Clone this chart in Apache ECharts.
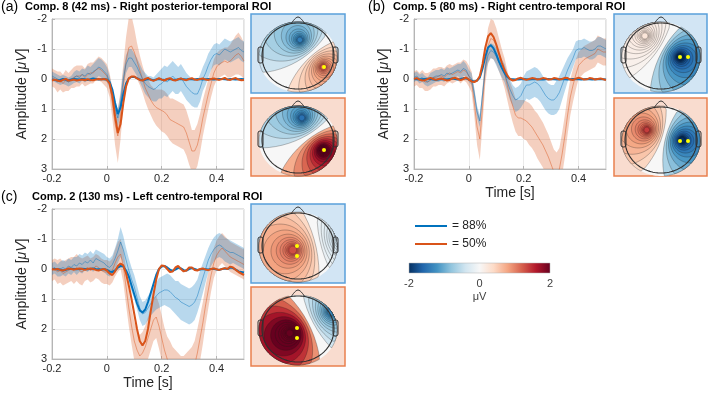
<!DOCTYPE html>
<html>
<head>
<meta charset="utf-8">
<script src="https://cdn.jsdelivr.net/npm/echarts@6/dist/echarts.min.js"></script>
<style>
  html, body { margin: 0; padding: 0; background: #fff; }
  #chart { width: 709px; height: 394px; }
</style>
</head>
<body>
<div id="chart"></div>
<script>
  // time axis [s]
  var time = [-0.2,-0.19,-0.18,-0.17,-0.16,-0.15,-0.14,-0.13,-0.12,-0.11,-0.1,-0.09,-0.08,-0.07,-0.06,-0.05,-0.04,-0.03,-0.02,-0.01,
    0,0.01,0.02,0.03,0.04,0.05,0.06,0.07,0.08,0.09,0.1,0.11,0.12,0.13,0.14,0.15,0.16,0.17,0.18,0.19,0.2,0.21,0.22,0.23,0.24,0.25,
    0.26,0.27,0.28,0.29,0.3,0.31,0.32,0.33,0.34,0.35,0.36,0.37,0.38,0.39,0.4,0.41,0.42,0.43,0.44,0.45,0.46,0.47,0.48,0.49,0.5];

  // (a) Comp. 8
  var modelBlueA = [0.02,0.03,0.05,0.03,0.0,0.02,0.04,0.02,0.0,0.01,0.02,0.0,0.01,0.03,0.01,-0.02,0.0,0.02,0.01,0.0,
    0.02,0.1,0.35,0.8,1.17,0.95,0.5,0.15,-0.02,-0.07,-0.07,-0.03,0.02,
    0.04,0.03,0.0,0.02,0.04,0.02,0.0,0.02,0.03,0.01,0.0,0.02,0.03,0.01,0.0,0.01,0.02,0.0,0.01,0.02,0.0,0.01,0.02,0.01,0.0,0.01,0.02,0.01,0.0,0.0,0.01,0.02,0.0,0.01,0.02,0.01,0.0,0.01];
  var modelOrangeA = [0.05,0.02,0.05,0.08,0.03,0.0,0.05,0.04,0.02,0.05,0.03,0.02,0.04,0.01,0.03,0.04,0.02,0.0,0.02,0.0,
    0.03,0.15,0.55,1.25,1.8,1.5,0.8,0.25,-0.02,-0.08,-0.08,-0.02,0.03,
    0.05,0.0,-0.04,0.03,0.06,0.02,-0.03,0.02,0.05,0.0,-0.03,0.03,0.05,0.01,-0.02,0.02,0.04,0.0,-0.03,0.02,0.03,0.0,-0.02,0.02,0.03,0.0,-0.02,0.01,0.03,0.0,-0.04,0.02,0.03,-0.01,-0.03,0.02,0.04,0.03];
  var meanBlueA = [-0.1,-0.05,0.0,0.05,0.02,0.05,0.1,0.05,-0.05,-0.1,
    -0.05,-0.15,-0.1,-0.2,-0.15,-0.25,-0.3,-0.4,-0.35,-0.25,
    -0.15,0.1,0.5,1.0,1.3,0.8,0.0,-0.5,-0.7,-0.7,
    -0.55,-0.4,-0.2,0.0,0.15,0.25,0.3,0.35,0.3,0.2,
    0.15,0.05,0.1,0.0,-0.1,0.0,0.05,-0.05,0.1,0.25,
    0.35,0.45,0.5,0.5,0.3,0.0,-0.2,-0.45,-0.65,-0.8,
    -0.85,-0.8,-0.9,-1.0,-0.95,-0.9,-0.95,-1.0,-1.05,-0.95,-0.9];
  var spreadBlueA = [0.15,0.15,0.15,0.15,0.15,0.15,0.15,0.15,0.18,0.2,0.2,0.2,0.22,0.25,0.25,0.25,0.3,0.3,0.3,0.3,
    0.25,0.2,0.2,0.25,0.3,0.3,0.3,0.3,0.3,0.3,0.3,0.3,0.3,
    0.3,0.35,0.35,0.4,0.4,0.45,0.45,0.5,0.5,0.5,0.5,0.5,0.5,0.45,0.45,0.45,0.45,0.45,0.45,0.45,0.45,0.45,0.4,0.4,0.4,0.35,0.35,0.35,0.35,0.35,0.35,0.35,0.35,0.35,0.35,0.35,0.35,0.35];
  var meanOrangeA = [-0.05,0.0,0.1,0.05,0.15,0.05,0.1,0.0,-0.05,-0.1,
    -0.1,-0.15,-0.05,-0.15,-0.2,-0.2,-0.3,-0.35,-0.3,-0.2,
    -0.1,0.2,0.8,1.5,1.9,1.2,0.2,-0.6,-1.05,-1.1,
    -0.9,-0.6,-0.3,0.0,0.3,0.5,0.7,0.85,0.95,1.0,
    1.05,1.1,1.2,1.35,1.4,1.45,1.5,1.55,1.6,1.8,
    2.1,2.4,2.4,2.2,1.8,1.3,0.9,0.5,0.15,-0.2,
    -0.4,-0.5,-0.55,-0.6,-0.55,-0.6,-0.7,-0.8,-0.85,-0.75,-0.6];
  var spreadOrangeA = [0.3,0.3,0.35,0.3,0.3,0.35,0.3,0.3,0.35,0.35,0.35,0.3,0.3,0.35,0.35,0.35,0.35,0.4,0.4,0.4,
    0.4,0.4,0.5,0.7,0.9,0.8,0.7,0.8,1.0,1.0,0.8,0.6,0.5,
    0.45,0.45,0.5,0.5,0.55,0.6,0.65,0.7,0.7,0.7,0.7,0.75,0.75,0.75,0.75,0.75,0.75,0.75,0.7,0.7,0.7,0.65,0.6,0.55,0.5,0.45,0.45,0.45,0.45,0.45,0.45,0.5,0.55,0.6,0.65,0.7,0.65,0.6];

  // (b) Comp. 5
  var modelBlueB = [0.0,0.01,0.02,0.01,0.0,-0.01,0.0,0.02,0.03,0.02,0.0,0.01,0.02,0.0,-0.02,0.0,0.02,0.0,-0.03,-0.02,
    0.02,0.06,0.08,0.05,-0.05,-0.35,-0.75,-1.05,-1.13,-1.02,-0.82,-0.58,-0.38,-0.2,-0.07,0.0,
    0.01,0.02,0.02,0.01,0.0,0.01,0.02,0.01,0.0,0.01,0.02,0.02,0.01,0.0,0.01,0.01,0.02,0.01,0.0,0.01,0.02,0.01,0.0,0.01,0.01,0.02,0.01,0.0,0.01,0.02,0.01,0.0,0.01,0.01,0.02];
  var modelOrangeB = [0.0,-0.03,0.02,0.05,0.04,0.0,-0.04,0.0,0.03,0.0,-0.02,0.02,0.05,0.03,-0.02,-0.04,0.0,0.04,0.0,-0.05,
    0.02,0.08,0.1,0.05,-0.1,-0.5,-1.05,-1.42,-1.53,-1.4,-1.15,-0.85,-0.55,-0.3,-0.12,0.0,0.05,
    0.03,-0.02,-0.04,0.0,0.03,0.0,-0.03,-0.02,0.02,0.0,-0.03,-0.02,0.02,0.01,-0.03,-0.02,0.02,0.0,-0.04,-0.03,0.02,0.03,-0.01,-0.04,-0.02,0.02,0.01,-0.03,-0.02,0.02,0.0,-0.02,0.01,0.03];
  var meanBlueB = [-0.05,-0.1,0.0,-0.05,0.05,0.1,0.0,-0.05,-0.1,-0.1,
    -0.15,-0.1,-0.2,-0.15,-0.2,-0.25,-0.3,-0.25,-0.35,-0.3,
    -0.1,0.0,0.5,1.1,1.4,0.5,-0.35,-0.8,-0.95,-0.9,
    -0.75,-0.55,-0.35,-0.2,0.1,0.35,0.55,0.7,0.65,0.55,
    0.35,0.2,0.2,0.15,0.1,0.15,0.25,0.4,0.55,0.65,
    0.7,0.7,0.6,0.45,0.2,-0.05,-0.3,-0.5,-0.7,-0.95,
    -1.0,-1.0,-1.05,-1.0,-0.95,-0.95,-1.0,-1.1,-1.1,-1.05,-1.0];
  var spreadBlueB = [0.15,0.15,0.15,0.15,0.15,0.15,0.2,0.2,0.2,0.2,0.2,0.2,0.2,0.2,0.2,0.2,0.2,0.25,0.25,0.2,
    0.2,0.2,0.2,0.2,0.2,0.2,0.2,0.25,0.25,0.25,0.3,0.3,0.3,0.3,0.3,0.35,
    0.35,0.4,0.4,0.4,0.45,0.45,0.5,0.5,0.5,0.5,0.5,0.5,0.5,0.5,0.5,0.5,0.55,0.55,0.5,0.45,0.4,0.35,0.3,0.3,0.3,0.3,0.3,0.3,0.3,0.3,0.3,0.3,0.3,0.3,0.3];
  var meanOrangeB = [0.0,-0.05,0.05,0.0,0.1,0.1,0.05,-0.05,-0.05,-0.1,
    -0.1,-0.05,-0.15,-0.2,-0.15,-0.2,-0.25,-0.2,-0.3,-0.25,
    -0.1,0.1,0.8,1.6,2.0,0.9,-0.4,-1.1,-1.35,-1.3,
    -1.1,-0.8,-0.5,-0.2,0.2,0.6,0.9,1.2,1.3,1.3,
    1.35,1.4,1.5,1.6,1.75,1.9,2.05,2.2,2.4,2.6,
    2.85,3.1,3.2,3.0,2.5,1.9,1.2,0.6,0.2,-0.15,
    -0.45,-0.55,-0.65,-0.7,-0.75,-0.8,-0.85,-1.0,-0.95,-0.9,-0.9];
  var spreadOrangeB = [0.25,0.25,0.25,0.3,0.3,0.3,0.3,0.3,0.3,0.3,0.3,0.3,0.3,0.3,0.3,0.3,0.3,0.35,0.35,0.35,
    0.35,0.35,0.45,0.6,0.7,0.6,0.55,0.6,0.65,0.65,0.6,0.55,0.5,0.5,0.5,0.5,
    0.55,0.55,0.6,0.6,0.65,0.65,0.7,0.7,0.7,0.75,0.75,0.75,0.75,0.75,0.75,0.75,0.75,0.7,0.7,0.7,0.65,0.6,0.55,0.5,0.45,0.45,0.45,0.45,0.45,0.45,0.45,0.45,0.45,0.45,0.45];

  // (c) Comp. 2
  var modelBlueC = [0.0,0.0,0.01,0.02,0.05,0.03,0.0,-0.01,0.0,0.01,0.0,-0.01,0.0,0.01,0.0,-0.02,0.0,0.01,0.02,0.0,
    0.03,0.08,0.1,0.05,-0.05,-0.1,-0.08,0.05,0.25,0.55,
    0.85,1.15,1.38,1.45,1.35,1.1,0.8,0.5,0.2,0.0,
    -0.08,-0.1,-0.05,0.02,0.06,0.02,-0.04,-0.02,0.04,0.05,
    0.0,-0.03,0.0,0.03,0.02,0.0,0.01,0.02,0.0,-0.01,
    0.02,0.03,0.0,-0.02,0.0,-0.05,-0.03,0.02,0.08,0.1,0.12];
  var modelOrangeC = [0.0,0.02,0.0,0.03,0.05,0.02,-0.02,0.0,0.02,0.0,-0.02,0.0,0.03,0.0,-0.02,0.0,0.03,0.05,0.02,0.0,
    0.05,0.15,0.2,0.08,-0.1,-0.18,-0.12,0.15,0.55,1.0,
    1.5,2.0,2.4,2.55,2.4,2.0,1.4,0.85,0.35,0.0,
    -0.12,-0.1,0.0,0.1,0.08,-0.05,-0.1,0.0,0.08,0.05,
    -0.05,-0.05,0.03,0.05,0.0,-0.02,0.02,0.04,0.0,-0.02,
    0.01,0.03,0.0,-0.03,0.0,-0.08,-0.05,0.03,0.1,0.15,0.2];
  var meanBlueC = [0.0,-0.05,0.05,0.0,-0.05,0.0,-0.1,-0.05,-0.15,-0.1,
    -0.2,-0.15,-0.25,-0.2,-0.3,-0.2,-0.35,-0.3,-0.25,-0.2,
    -0.1,-0.05,-0.15,-0.35,-0.6,-0.9,-0.65,-0.3,0.05,0.35,
    0.6,0.95,1.3,1.5,1.45,1.3,1.15,1.0,0.9,0.8,
    0.75,0.7,0.7,0.75,0.85,0.95,1.0,1.1,1.15,1.2,
    1.25,1.2,1.1,0.9,0.6,0.3,0.0,-0.3,-0.5,-0.65,
    -0.75,-0.8,-0.75,-0.65,-0.6,-0.55,-0.55,-0.5,-0.45,-0.4,-0.35];
  var spreadBlueC = [0.2,0.2,0.2,0.25,0.25,0.25,0.25,0.25,0.25,0.3,0.3,0.3,0.3,0.3,0.3,0.3,0.3,0.3,0.3,0.3,
    0.3,0.3,0.3,0.35,0.4,0.5,0.45,0.4,0.4,0.4,0.4,0.4,0.4,0.4,0.4,0.4,
    0.4,0.45,0.45,0.5,0.5,0.5,0.55,0.55,0.55,0.55,0.6,0.6,0.6,0.6,0.6,0.6,0.6,0.55,0.55,0.5,0.45,0.4,0.4,0.4,0.4,0.4,0.4,0.4,0.4,0.4,0.35,0.35,0.35,0.35,0.35];
  var meanOrangeC = [0.05,0.0,0.1,0.05,0.15,0.1,0.05,0.0,0.05,-0.05,
    0.05,0.1,0.0,-0.05,0.05,0.0,-0.1,-0.05,0.05,0.1,
    0.1,0.15,0.05,-0.2,-0.4,-0.5,-0.1,0.6,1.3,1.9,
    2.4,2.7,2.9,2.8,2.6,2.3,2.0,1.7,1.6,1.9,
    2.3,2.7,3.0,3.2,3.4,3.5,3.6,3.7,3.7,3.6,
    3.5,3.4,3.2,2.8,2.3,1.8,1.2,0.7,0.2,-0.2,
    -0.45,-0.6,-0.7,-0.6,-0.5,-0.4,-0.35,-0.3,-0.25,-0.2,-0.15];
  var spreadOrangeC = [0.35,0.35,0.4,0.4,0.4,0.4,0.4,0.4,0.45,0.45,0.45,0.45,0.4,0.4,0.4,0.4,0.4,0.4,0.4,0.4,
    0.4,0.4,0.4,0.45,0.5,0.5,0.55,0.6,0.6,0.6,0.65,0.65,0.7,0.7,0.7,0.7,
    0.7,0.7,0.7,0.75,0.75,0.75,0.75,0.8,0.8,0.8,0.8,0.8,0.8,0.8,0.8,0.8,0.8,0.8,0.75,0.7,0.65,0.6,0.55,0.5,0.5,0.5,0.5,0.5,0.5,0.5,0.5,0.5,0.5,0.5,0.5];

  var panelTitles = ['Comp. 8 (42 ms) - Right posterior-temporal ROI', 'Comp. 5 (80 ms) - Right centro-temporal ROI', 'Comp. 2 (130 ms) - Left centro-temporal ROI'];
  var panelLetters = ['(a)', '(b)', '(c)'];
  var legendNames = ['= 88%', '= 50%'];
  var xTicks = { min: -0.2, max: 0.5, step: 0.2 };
  var yTicks = { min: -2, max: 3, step: 1 };
  var cbarTicks = { min: -2, max: 2, step: 2 };

  var FONT = 'Liberation Sans, Arial, sans-serif';
  var BLUE = '#0072BD', ORANGE = '#D95319';
  var RDBU = ['#053061','#2166ac','#4393c3','#92c5de','#d1e5f0','#f7f7f7','#fddbc7','#f4a582','#d6604d','#b2182b','#67001f'];

  var panels = [
    { mb: modelBlueA, mo: modelOrangeA, bm: meanBlueA, bw: spreadBlueA, om: meanOrangeA, ow: spreadOrangeA },
    { mb: modelBlueB, mo: modelOrangeB, bm: meanBlueB, bw: spreadBlueB, om: meanOrangeB, ow: spreadOrangeB },
    { mb: modelBlueC, mo: modelOrangeC, bm: meanBlueC, bw: spreadBlueC, om: meanOrangeC, ow: spreadOrangeC }
  ];
  var gridPos = [
    { left: 52, top: 19 },
    { left: 414, top: 19 },
    { left: 52, top: 209 }
  ];

  function pairs(v) { return time.map(function (t, i) { return [t, v[i]]; }); }

  var series = [];
  panels.forEach(function (p, k) {
    // shaded band drawn as one polygon through the axis scales
    function band(m, w, color) {
      series.push({ type: 'custom', coordinateSystem: 'cartesian2d', xAxisIndex: k, yAxisIndex: k, silent: true, clip: true, z: 1,
        data: time.map(function (t, i) { return [t, m[i] - w[i], m[i] + w[i]]; }),
        encode: { x: 0, y: [1, 2] },
        renderItem: function (params, api) {
          if (params.dataIndex !== 0) return;
          var up = [], dn = [];
          for (var i = 0; i < time.length; i++) {
            up.push(api.coord([time[i], m[i] + w[i]]));
            dn.unshift(api.coord([time[i], m[i] - w[i]]));
          }
          return { type: 'polygon', shape: { points: up.concat(dn) }, style: { fill: color } };
        } });
    }
    band(p.om, p.ow, 'rgba(217,83,25,0.28)');
    band(p.bm, p.bw, 'rgba(0,114,189,0.28)');
    series.push({ type: 'line', xAxisIndex: k, yAxisIndex: k, symbol: 'none', silent: true, z: 2,
      lineStyle: { color: 'rgba(217,83,25,0.45)', width: 1 }, data: pairs(p.om) });
    series.push({ type: 'line', xAxisIndex: k, yAxisIndex: k, symbol: 'none', silent: true, z: 2,
      lineStyle: { color: 'rgba(0,114,189,0.45)', width: 1 }, data: pairs(p.bm) });
    series.push({ name: legendNames[0], type: 'line', xAxisIndex: k, yAxisIndex: k, symbol: 'none', z: 3,
      color: BLUE, lineStyle: { color: BLUE, width: 2 }, data: pairs(p.mb) });
    series.push({ name: legendNames[1], type: 'line', xAxisIndex: k, yAxisIndex: k, symbol: 'none', z: 4,
      color: ORANGE, lineStyle: { color: ORANGE, width: 2 }, data: pairs(p.mo) });
  });
  series.push({ type: 'line', xAxisIndex: 3, yAxisIndex: 3, data: [] });

  var grids = gridPos.map(function (g) {
    return { left: g.left, top: g.top, width: 192, height: 150, show: true, borderColor: '#c4c4c4', borderWidth: 1, backgroundColor: 'transparent' };
  });
  grids.push({ left: 409, top: 263, width: 141, height: 10, show: true, borderColor: '#b0b0b0', borderWidth: 0.5,
    backgroundColor: { type: 'linear', x: 0, y: 0, x2: 1, y2: 0,
      colorStops: RDBU.map(function (c, i) { return { offset: i / 10, color: c }; }) } });

  var xAxes = [0, 1, 2].map(function (k) {
    return { type: 'value', gridIndex: k, min: xTicks.min, max: xTicks.max, interval: xTicks.step,
      axisLine: { show: true, onZero: false, lineStyle: { color: '#b5b5b5' } },
      axisTick: { show: true, inside: true, length: 3, lineStyle: { color: '#b5b5b5' } },
      axisLabel: { color: '#262626', fontSize: 11, fontFamily: FONT, margin: 4, showMaxLabel: false },
      splitLine: { show: true, lineStyle: { color: '#ebebeb', width: 1 } },
      name: k === 0 ? '' : 'Time [s]', nameLocation: 'middle', nameGap: 17,
      nameTextStyle: { color: '#262626', fontSize: 14, fontFamily: FONT } };
  });
  xAxes.push({ type: 'value', gridIndex: 3, min: cbarTicks.min, max: cbarTicks.max, interval: cbarTicks.step,
    axisLine: { show: false }, axisTick: { show: false }, splitLine: { show: false },
    axisLabel: { color: '#404040', fontSize: 11, fontFamily: FONT, margin: 5 },
    name: 'μV', nameLocation: 'middle', nameGap: 18, nameTextStyle: { color: '#404040', fontSize: 11, fontFamily: FONT } });

  var yAxes = [0, 1, 2].map(function (k) {
    return { type: 'value', gridIndex: k, inverse: true, min: yTicks.min, max: yTicks.max, interval: yTicks.step,
      axisLine: { show: true, onZero: false, lineStyle: { color: '#b5b5b5' } },
      axisTick: { show: true, inside: true, length: 3, lineStyle: { color: '#b5b5b5' } },
      axisLabel: { color: '#262626', fontSize: 11, fontFamily: FONT, margin: 5 },
      splitLine: { show: true, lineStyle: { color: '#ebebeb', width: 1 } },
      name: 'Amplitude [{i|μV}]', nameLocation: 'middle', nameGap: 23,
      nameTextStyle: { color: '#262626', fontSize: 14, fontFamily: FONT,
        rich: { i: { fontStyle: 'italic', fontSize: 14, fontFamily: FONT, color: '#262626' } } } };
  });
  yAxes.push({ type: 'value', gridIndex: 3, show: false, min: 0, max: 1 });

  // ---- topographic maps (illustrations) ----
  var topos = [
    { x: 251, y: 14, w: 94, h: 79, kind: 'b', p: [25, 11], n: [2, -16], ampP: 1.2, ampN: 1.4, dots: [[26, 11]] },
    { x: 251, y: 98, w: 94, h: 78, kind: 'o', p: [25, 10], n: [4, -22], ampP: 2.4, ampN: 1.5, dots: [[26, 10]] },
    { x: 614, y: 14, w: 93, h: 79, kind: 'b', p: [-16, -20], n: [19, 1], ampP: 0.25, ampN: 2.1, dots: [[19, 1], [27, 1]] },
    { x: 614, y: 98, w: 93, h: 78, kind: 'o', p: [-14, -10], n: [21, 0], ampP: 1.4, ampN: 2.1, dots: [[19, 1], [27, 1]] },
    { x: 251, y: 204, w: 94, h: 79, kind: 'b', p: [-5, 4], n: [45, -8], ampP: 1.3, ampN: 0.5, dots: [[-1, 0], [-1, 10]] },
    { x: 251, y: 287, w: 94, h: 79, kind: 'o', p: [-8, 4], n: [33, -17], ampP: 3.0, ampN: 1.3, dots: [[-1, -1], [-1, 9]] }
  ];
  var LEVELS = [0.2, 0.4, 0.6, 0.8, 1.0, 1.2, 1.4, 1.6, 1.8, 2.0, 2.2, 2.4, 2.6];

  function hexRgb(c) { return [parseInt(c.slice(1, 3), 16), parseInt(c.slice(3, 5), 16), parseInt(c.slice(5, 7), 16)]; }
  function rdbu(v) {
    var s = (Math.max(-2, Math.min(2, v)) + 2) / 4 * 10;
    var i = Math.min(9, Math.floor(s)), f = s - i;
    var a = hexRgb(RDBU[i]), b = hexRgb(RDBU[i + 1]);
    return 'rgb(' + [0, 1, 2].map(function (j) { return Math.round(a[j] + (b[j] - a[j]) * f); }).join(',') + ')';
  }
  function ellipsePts(h, n) {
    var pts = [];
    for (var i = 0; i < n; i++) {
      var a = i / n * 2 * Math.PI;
      pts.push([h.x + h.rx * Math.cos(a), h.y + h.ry * Math.sin(a)]);
    }
    return pts;
  }
  function clipToHead(cx, cy, r, h) {
    var pts = [], i, a, x, y;
    for (i = 0; i < 90; i++) {
      a = i / 90 * 2 * Math.PI;
      x = cx + r * Math.cos(a); y = cy + r * Math.sin(a);
      if (Math.pow((x - h.x) / h.rx, 2) + Math.pow((y - h.y) / h.ry, 2) <= 1) pts.push([x, y]);
    }
    ellipsePts(h, 140).forEach(function (q) {
      if (Math.pow(q[0] - cx, 2) + Math.pow(q[1] - cy, 2) <= r * r) pts.push(q);
    });
    if (pts.length < 3) return null;
    var mx = 0, my = 0;
    pts.forEach(function (q) { mx += q[0]; my += q[1]; });
    mx /= pts.length; my /= pts.length;
    pts.sort(function (p, q) { return Math.atan2(p[1] - my, p[0] - mx) - Math.atan2(q[1] - my, q[0] - mx); });
    return pts;
  }

  var graphics = [];
  topos.forEach(function (t) {
    var bg = t.kind === 'b' ? '#d2e5f4' : '#f9dccf';
    var border = t.kind === 'b' ? '#5aa0da' : '#e9804f';
    var head = { x: t.x + 47, y: t.y + 42, rx: 36, ry: 33 };
    var field = { x: head.x, y: head.y + 1, rx: 39, ry: 35 };
    graphics.push({ type: 'rect', silent: true, shape: { x: t.x, y: t.y, width: t.w, height: t.h }, style: { fill: bg, stroke: border, lineWidth: 1.5 } });
    graphics.push({ type: 'polygon', silent: true, shape: { points: ellipsePts(field, 140) }, style: { fill: '#f7f7f7' } });
    var P = [head.x + t.p[0], head.y + t.p[1]], N = [head.x + t.n[0], head.y + t.n[1]];
    var d = Math.sqrt(Math.pow(P[0] - N[0], 2) + Math.pow(P[1] - N[1], 2));
    [[P, N, t.ampP], [N, P, -t.ampN]].forEach(function (pr) {
      var A = pr[0], B = pr[1], amp = pr[2];
      LEVELS.forEach(function (u) {
        var k = Math.exp(-u), k2 = k * k;
        var cx = (A[0] - k2 * B[0]) / (1 - k2), cy = (A[1] - k2 * B[1]) / (1 - k2), r = k * d / (1 - k2);
        var pts = clipToHead(cx, cy, r, field);
        if (!pts) return;
        var lv = Math.min(1, (u + 0.1) / 2.6);
        graphics.push({ type: 'polygon', silent: true, shape: { points: pts },
          style: { fill: rdbu(amp * Math.pow(lv, 0.55)), stroke: 'rgba(25,25,25,0.5)', lineWidth: 0.55 } });
      });
    });
    graphics.push({ type: 'polygon', silent: true, shape: { points: ellipsePts(head, 140) }, style: { fill: null, stroke: '#303030', lineWidth: 1.1 } });
    graphics.push({ type: 'polyline', silent: true, shape: { points: [[head.x - 7, head.y - head.ry + 1], [head.x, head.y - head.ry - 6], [head.x + 7, head.y - head.ry + 1]], smooth: 0.4 },
      style: { fill: null, stroke: '#303030', lineWidth: 1 } });
    graphics.push({ type: 'rect', silent: true, shape: { x: head.x - head.rx - 4, y: head.y - 9, width: 5, height: 16, r: 2 }, style: { fill: null, stroke: '#303030', lineWidth: 1 } });
    graphics.push({ type: 'rect', silent: true, shape: { x: head.x + head.rx - 1, y: head.y - 9, width: 5, height: 16, r: 2 }, style: { fill: null, stroke: '#303030', lineWidth: 1 } });
    t.dots.forEach(function (dt) {
      graphics.push({ type: 'circle', silent: true, shape: { cx: head.x + dt[0], cy: head.y + dt[1], r: 2 }, style: { fill: '#ffff00' } });
    });
  });

  // panel titles
  var titlePos = [[1, 0, 25, 1], [368, 0, 393, 1], [1, 190, 32, 191]];
  titlePos.forEach(function (tp, k) {
    graphics.push({ type: 'text', left: tp[0], top: tp[1], style: { text: panelLetters[k], font: '14px ' + FONT, fill: '#000' } });
    graphics.push({ type: 'text', left: tp[2], top: tp[3], style: { text: panelTitles[k], font: 'bold 11px ' + FONT, fill: '#000' } });
  });

  var chart = echarts.init(document.getElementById('chart'));
  chart.setOption({
    animation: false,
    backgroundColor: '#fff',
    textStyle: { fontFamily: FONT },
    grid: grids,
    xAxis: xAxes,
    yAxis: yAxes,
    legend: { data: legendNames, orient: 'vertical', left: 410, top: 215, icon: 'rect', itemWidth: 32, itemHeight: 2, itemGap: 6,
      selectedMode: false, textStyle: { fontSize: 12, color: '#222', fontFamily: FONT } },
    graphic: graphics,
    series: series
  });
</script>
</body>
</html>
